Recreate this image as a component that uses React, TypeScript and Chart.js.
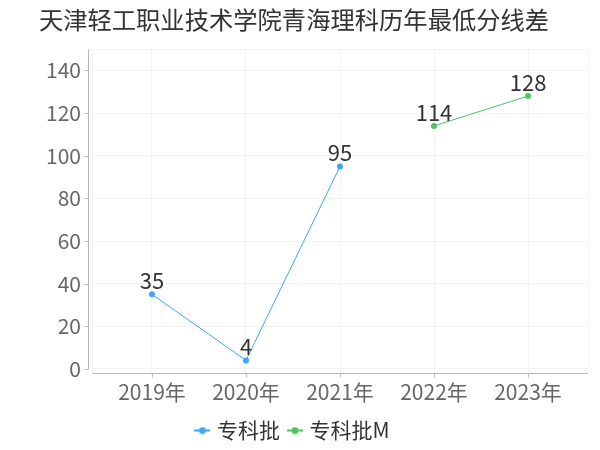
import React, { useEffect, useRef } from "react";
import { Chart, registerables } from "chart.js";

Chart.register(...registerables);

const titleText = "天津轻工职业技术学院青海理科历年最低分线差";
const years = ["2019年", "2020年", "2021年", "2022年", "2023年"];
const seriesNames = ["专科批", "专科批M"];
const seriesA = [35, 4, 95, null, null];
const seriesB = [null, null, null, 114, 128];
const yTicks = [0, 20, 40, 60, 80, 100, 120, 140];
const colors = ["#3ea6f8", "#4cc461"];

const FONT = "'Noto Sans CJK SC', sans-serif";
const AXIS_COLOR = "#bbbbbb";

function makeMarker(color: string): HTMLCanvasElement {
  const c = document.createElement("canvas");
  c.width = 16;
  c.height = 8;
  const ctx = c.getContext("2d")!;
  ctx.strokeStyle = color;
  ctx.lineWidth = 2;
  ctx.beginPath();
  ctx.moveTo(0, 4);
  ctx.lineTo(16, 4);
  ctx.stroke();
  ctx.fillStyle = color;
  ctx.beginPath();
  ctx.arc(8, 4, 3.5, 0, Math.PI * 2);
  ctx.fill();
  return c;
}

const axesPlugin = {
  id: "customAxes",
  afterDatasetsDraw(chart: any) {
    const { ctx, chartArea, scales } = chart;
    const x = scales.x;
    const y = scales.y;
    ctx.save();
    ctx.strokeStyle = AXIS_COLOR;
    ctx.lineWidth = 1;
    const yx = Math.round(chartArea.left - 4) + 0.5;
    const y0 = y.getPixelForValue(0);
    ctx.beginPath();
    ctx.moveTo(yx, chartArea.top);
    ctx.lineTo(yx, y0);
    ctx.stroke();
    yTicks.forEach((v) => {
      const py = Math.round(y.getPixelForValue(v)) + 0.5;
      ctx.beginPath();
      ctx.moveTo(yx - 4, py);
      ctx.lineTo(yx, py);
      ctx.stroke();
    });
    const xy = Math.round(chartArea.bottom) + 0.5;
    ctx.beginPath();
    ctx.moveTo(chartArea.left, xy);
    ctx.lineTo(chartArea.right, xy);
    ctx.stroke();
    years.forEach((_, i) => {
      const px = Math.round(x.getPixelForValue(i)) + 0.5;
      ctx.beginPath();
      ctx.moveTo(px, xy);
      ctx.lineTo(px, xy + 4);
      ctx.stroke();
    });
    ctx.restore();
  },
};

const labelPlugin = {
  id: "valueLabels",
  afterDatasetsDraw(chart: any) {
    const { ctx } = chart;
    ctx.save();
    ctx.font = `22px ${FONT}`;
    ctx.fillStyle = "#333333";
    ctx.textAlign = "center";
    ctx.textBaseline = "alphabetic";
    chart.data.datasets.forEach((ds: any, di: number) => {
      const meta = chart.getDatasetMeta(di);
      meta.data.forEach((pt: any, i: number) => {
        const v = ds.data[i]?.y;
        if (v === null || v === undefined) return;
        ctx.fillText(String(v), pt.x, pt.y - 5);
      });
    });
    ctx.restore();
  },
};

export default function App() {
  const ref = useRef<HTMLCanvasElement | null>(null);

  useEffect(() => {
    document.body.style.margin = "0";
    const markers = colors.map(makeMarker);
    const toPoints = (arr: (number | null)[]) =>
      arr.map((v, i) => ({ x: i, y: v }));
    const chart = new Chart(ref.current!, {
      type: "line",
      data: {
        datasets: [
          {
            label: seriesNames[0],
            data: toPoints(seriesA) as any,
            borderColor: colors[0],
            backgroundColor: colors[0],
            borderWidth: 1,
            pointRadius: 3,
            pointBorderWidth: 0,
            spanGaps: false,
          },
          {
            label: seriesNames[1],
            data: toPoints(seriesB) as any,
            borderColor: colors[1],
            backgroundColor: colors[1],
            borderWidth: 1,
            pointRadius: 3,
            pointBorderWidth: 0,
            spanGaps: false,
          },
        ],
      },
      options: {
        responsive: false,
        animation: false,
        layout: {
          autoPadding: false,
          padding: { left: 0, right: 12, top: 0, bottom: -1 },
        } as any,
        plugins: {
          title: {
            display: true,
            text: titleText,
            color: "#333333",
            font: { family: FONT, size: 24.3, weight: "normal" as any },
            padding: { top: 5, bottom: 15 },
          },
          legend: {
            position: "bottom",
            labels: {
              usePointStyle: true,
              pointStyleWidth: 8,
              padding: 11,
              color: "#333333",
              font: { family: FONT, size: 21 },
              generateLabels(chart: any) {
                const items = (Chart.defaults.plugins.legend.labels as any).generateLabels(chart);
                return items.map((it: any, i: number) => ({ ...it, pointStyle: markers[i] }));
              },
            },
          },
          tooltip: { enabled: false },
        },
        scales: {
          x: {
            type: "linear",
            min: -0.638,
            max: 4.638,
            afterBuildTicks(scale: any) {
              scale.ticks = [
                { value: scale.min },
                ...years.map((_, i) => ({ value: i })),
                { value: scale.max },
              ];
            },
            afterFit(scale: any) {
              scale.height = 36;
            },
            ticks: {
              autoSkip: false,
              maxRotation: 0,
              padding: 6,
              color: "#666666",
              font: { family: FONT, size: 21 },
              callback: (v: any) => (Number.isInteger(v) ? years[v] ?? "" : ""),
            },
            grid: { color: "#f3f3f3", drawTicks: false },
            border: { display: false },
          },
          y: {
            min: -1.9,
            max: 150,
            afterBuildTicks(scale: any) {
              scale.ticks = [...yTicks.map((v) => ({ value: v })), { value: 150 }];
            },
            afterFit(scale: any) {
              scale.width = 92;
            },
            ticks: {
              padding: 11,
              color: "#666666",
              font: { family: FONT, size: 21 },
              callback: (v: any) => (yTicks.includes(v) ? String(v) : ""),
            },
            grid: { color: "#f3f3f3", drawTicks: false },
            border: { display: false },
          },
        },
      },
      plugins: [axesPlugin, labelPlugin],
    });
    return () => chart.destroy();
  }, []);

  return (
    <div style={{ position: "absolute", left: 0, top: 0, width: 600, height: 450 }}>
      <canvas ref={ref} width={600} height={450} style={{ width: 600, height: 450 }} />
    </div>
  );
}
